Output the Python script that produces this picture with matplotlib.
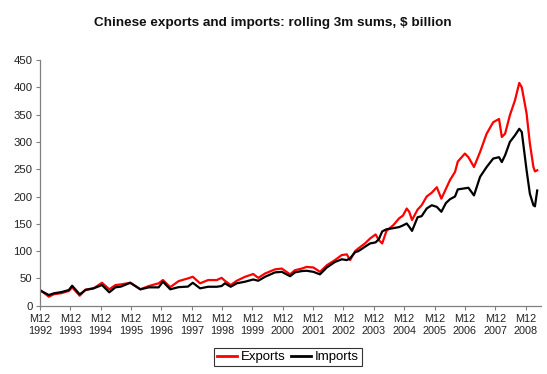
import matplotlib
matplotlib.use("Agg")
import matplotlib.pyplot as plt

plt.rcParams['font.family'] = ['Liberation Sans', 'DejaVu Sans']

# Month offsets from December 1992 (0 = M12 1992)
months = [0, 3.5, 5.5, 8.5, 11.4, 12.7, 15.7, 18, 21.2, 24.5, 27.4, 29.8, 32, 35.7,
          39.7, 43, 46.9, 48.6, 51.5, 54.8, 58.5, 60.4, 63.3, 66.5, 69.9, 71.8, 73.1,
          75.4, 77.8, 81.1, 84.3, 86.3, 89, 92.9, 95.6, 98.9, 100.8, 103.5, 105.4,
          108.1, 110.7, 113.4, 116.6, 119.3, 121.3, 122.6, 124.6, 125.9, 128.5, 130.5,
          132.7, 134, 135.3, 137, 139.7, 142, 143.5, 145, 146, 147.1, 149.3, 150.9,
          152.9, 154.9, 156.9, 158.7, 160.5, 162.1, 164.1, 165.2, 168, 169.4, 171.6,
          174, 176.6, 179.2, 181.5, 182.6, 183.9, 185.8, 187.8, 189.5, 190.5, 192.4,
          193.7, 195.1, 195.7, 196.6]

exports = [29, 16.5, 21, 23, 27, 33.6, 18.3, 29.6, 31.8, 42, 30, 37.8, 39, 42,
           30, 36, 41, 47, 34, 45, 50, 53, 41, 47, 47, 51, 45.7,
           37.8, 45.7, 53, 58, 51, 59, 66.5, 68, 57.4, 65, 68, 71,
           70, 62, 74, 83.5, 92.7, 94, 83.5, 100, 105, 114, 123,
           130.5, 120, 114, 137, 147.5, 160, 165, 178, 172, 157, 176, 184,
           200, 207, 217, 196, 214, 230, 245, 264, 278.6, 272, 254,
           281.5, 315, 336, 342, 309, 315, 349, 376, 408, 400, 352,
           297, 254, 246, 248]

imports = [28, 19.5, 22.7, 25, 28.7, 36.6, 20.8, 28.7, 31.8, 37.8, 24.5, 33.6, 35, 42,
           30, 33.6, 33.6, 44, 30, 34, 35, 42, 31.8, 34.7, 34.7, 36, 41,
           34.7, 41, 44, 48, 45.7, 53, 61, 62, 54, 61, 63.4, 64,
           62, 57.4, 70, 80, 85, 83.5, 86.7, 98, 100, 108, 114,
           116, 122, 136, 140, 142, 144, 147, 150.6, 144.5, 137, 162, 164,
           178, 184, 181, 172, 188, 195, 200, 213, 215, 216, 202,
           236, 254, 269.5, 272, 263, 275.5, 300, 312, 324, 318, 248,
           205, 184, 182, 211]

tick_months = [12 * i for i in range(17)]
tick_labels = [f"M12\n{1992 + i}" for i in range(17)]

title = "Chinese exports and imports: rolling 3m sums, $ billion"

fig = plt.figure(figsize=(5.47, 3.74), dpi=100)
ax = fig.add_axes([39.5 / 547, 1 - 305.7 / 374, 501 / 547, (305.7 - 60) / 374])

ax.plot(months, exports, color='#FF0000', lw=1.6, label='Exports')
ax.plot(months, imports, color='#000000', lw=1.6, label='Imports')

ax.set_xlim(-0.2, 197.9)
ax.set_ylim(0, 450)
ax.set_yticks(range(0, 451, 50))
ax.set_xticks(tick_months)
ax.set_xticklabels(tick_labels, fontsize=7.8, color='#222222', linespacing=1.2)
ax.tick_params(axis='y', labelsize=8.2, colors='#222222', length=3, width=0.8, pad=2,
               direction='out', color='#808080')
ax.tick_params(axis='x', length=3, width=0.8, pad=3, direction='out', color='#808080')

for s in ['top', 'right']:
    ax.spines[s].set_visible(False)
for s in ['left', 'bottom']:
    ax.spines[s].set_color('#808080')
    ax.spines[s].set_linewidth(0.9)

fig.text(273 / 547, 1 - 23 / 374, title, ha='center', va='center',
         fontsize=9.7, fontweight='bold', color='#111111')

leg = fig.legend(loc='center', bbox_to_anchor=(288 / 547, 1 - 357 / 374), ncol=2,
                 fontsize=9.5, frameon=True, fancybox=False, handlelength=1.5,
                 handletextpad=0.3, columnspacing=0.4, borderpad=0.25,
                 borderaxespad=0)
leg.get_frame().set_edgecolor('#000000')
leg.get_frame().set_linewidth(0.8)
for line in leg.get_lines():
    line.set_linewidth(2)

fig.savefig('out.png', dpi=100)
